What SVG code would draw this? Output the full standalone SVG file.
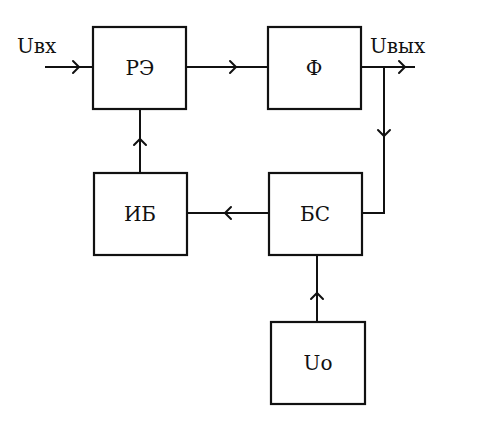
<svg xmlns="http://www.w3.org/2000/svg" width="480" height="426" viewBox="0 0 480 426">
<defs>
<style>
.box{fill:#fff;stroke:#111;stroke-width:2.2}
.ln{fill:none;stroke:#111;stroke-width:2}
.ah{fill:none;stroke:#111;stroke-width:2;stroke-linecap:round}
.t{font-family:"DejaVu Serif","Liberation Serif",serif;font-size:20px;fill:#111;text-anchor:middle;dominant-baseline:central}
.u{font-family:"DejaVu Serif","Liberation Serif",serif;font-size:20px;fill:#111}
</style>
</defs>
<rect width="480" height="426" fill="#fff"/>
<g id="connectors">
<path class="ln" d="M45,67 H93"/>
<path class="ah" d="M73,61 L79,67 L73,73"/>
<path class="ln" d="M186,67 H268"/>
<path class="ah" d="M230,61 L236,67 L230,73"/>
<path class="ln" d="M361,67 H415"/>
<path class="ah" d="M399,61 L405,67 L399,73"/>
<path class="ln" d="M362,213 H384 V67"/>
<path class="ah" d="M378,130 L384,136 L390,130"/>
<path class="ln" d="M269,213 H187"/>
<path class="ah" d="M231,207 L225,213 L231,219"/>
<path class="ln" d="M140,173 V109"/>
<path class="ah" d="M134,145 L140,139 L146,145"/>
<path class="ln" d="M317,322 V255"/>
<path class="ah" d="M311,299 L317,293 L323,299"/>
</g>
<g id="label-uvx"><text class="u" x="17" y="53">Uвх</text></g>
<g id="label-uvyx"><text class="u" x="370" y="53">Uвых</text></g>
<g id="RE"><rect class="box" x="93" y="27" width="93" height="82"/><text class="t" x="140" y="68">РЭ</text></g>
<g id="F"><rect class="box" x="268" y="27" width="93" height="82"/><text class="t" x="314" y="68">Ф</text></g>
<g id="IB"><rect class="box" x="94" y="173" width="93" height="82"/><text class="t" x="140" y="214">ИБ</text></g>
<g id="BS"><rect class="box" x="269" y="173" width="93" height="82"/><text class="t" x="315" y="214">БС</text></g>
<g id="U0"><rect class="box" x="271" y="322" width="94" height="82"/><text class="t" x="318" y="363">Uo</text></g>
</svg>
